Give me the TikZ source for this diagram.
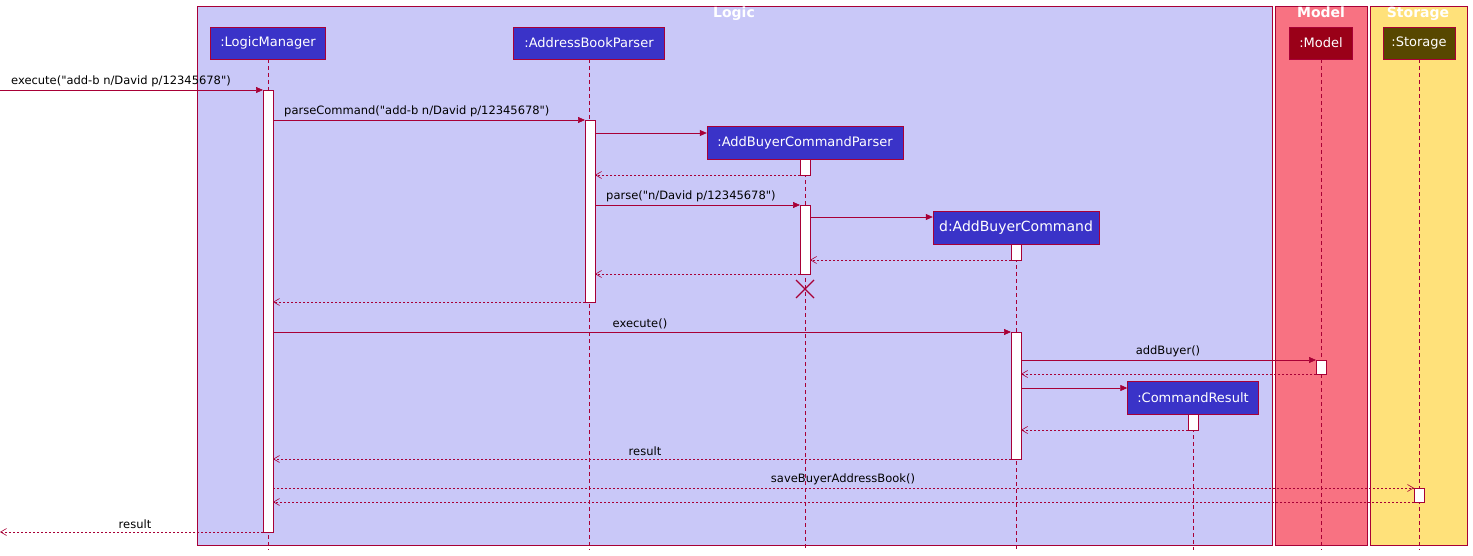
\documentclass[tikz,border=0pt]{standalone}
\usepackage{fontspec}
\setmainfont{DejaVu Sans}[Ligatures=TeXOff]
\usetikzlibrary{arrows.meta}
\newcommand\dq{"}
\definecolor{bd}{HTML}{A80036}
\definecolor{lg}{HTML}{C9C8F8}
\definecolor{md}{HTML}{F87282}
\definecolor{st}{HTML}{FFE17A}
\definecolor{pb}{HTML}{3A33C8}
\definecolor{mb}{HTML}{9A0018}
\definecolor{sb}{HTML}{574700}
\tikzset{
 grp/.style={draw=bd,line width=0.8pt},
 gtitle/.style={text=white,font=\bfseries\fontsize{14}{16}\selectfont,anchor=north,inner sep=2pt},
 part/.style={draw=bd,fill=pb,text=white,font=\fontsize{13}{15}\selectfont,minimum height=32,inner sep=2pt},
 life/.style={draw=bd,dashed,dash pattern=on 4pt off 3pt,line width=0.5pt},
 act/.style={draw=bd,fill=white,line width=0.6pt},
 msg/.style={draw=bd,line width=0.6pt,-{Triangle[length=7pt,width=6pt]}},
 ret/.style={draw=bd,line width=0.6pt,dash pattern=on 2pt off 2pt,-{Straight Barb[length=6pt,width=7pt]}},
 lbl/.style={font=\fontsize{11.5}{13}\selectfont,inner sep=1pt,anchor=south}
}
\begin{document}
\begin{tikzpicture}[x=1pt,y=-1pt]
\useasboundingbox (0,0) rectangle (1473,556);
\fill[white] (0,0) rectangle (1473,556);
% groups
\draw[grp,fill=lg] (197,6) rectangle (1272,545);
\draw[grp,fill=md] (1275,6) rectangle (1367,545);
\draw[grp,fill=st] (1370,6) rectangle (1467,545);
\node[gtitle] (gl) at (734,5) {Logic};
\node[gtitle] (gm) at (1321,5) {Model};
\node[gtitle] (gs) at (1418,5) {Storage};
% lifelines
\draw[life] (268,59) -- (268,550);
\draw[life] (589,59) -- (589,550);
\draw[life] (805,159) -- (805,550);
\draw[life] (1016,244) -- (1016,550);
\draw[life] (1193,414) -- (1193,550);
\draw[life] (1321,59) -- (1321,550);
\draw[life] (1419,59) -- (1419,550);
% participants
\node[part,minimum width=115] (lm) at (268,43) {:LogicManager};
\node[part,minimum width=151] (abp) at (589,43) {:AddressBookParser};
\node[part,fill=mb,minimum width=63] (mo) at (1321,43) {:Model};
\node[part,fill=sb,minimum width=72] (sto) at (1419,43) {:Storage};
\node[part,minimum width=196,minimum height=33] (abcp) at (805,142.5) {:AddBuyerCommandParser};
\node[part,minimum width=166,minimum height=33,font=\fontsize{14}{16}\selectfont] (abc) at (1016,227.5) {d:AddBuyerCommand};
\node[part,minimum width=131,minimum height=33] (cr) at (1193,397.5) {:CommandResult};
% activations
\draw[act] (263,90) rectangle (273,532);
\draw[act] (585,120) rectangle (595,302);
\draw[act] (800,159) rectangle (810,175);
\draw[act] (800,205) rectangle (810,274);
\draw[act] (1011,244) rectangle (1021,260);
\draw[act] (1011,332) rectangle (1021,459);
\draw[act] (1316,360) rectangle (1326,374);
\draw[act] (1188,414) rectangle (1198,430);
\draw[act] (1414,488) rectangle (1424,502);
% destroy
\draw[bd,line width=1.2pt] (796,280) -- (814,298) (796,298) -- (814,280);
% coordinates
\coordinate (in) at (0,90); \coordinate (out) at (0,532);
% messages
\draw[msg] (in) -- (263,90);
\node[lbl,anchor=south west] (l1) at (10,88) {execute(\dq add-b n/David p/12345678\dq)};
\draw[msg] (273,120) -- (585,120);
\node[lbl,anchor=south west] (l2) at (283,118) {parseCommand(\dq add-b n/David p/12345678\dq)};
\draw[msg] (595,133) -- (abcp.west |- 0,133);
\draw[ret] (800,175) -- (595,175);
\draw[msg] (595,205) -- (800,205);
\node[lbl,anchor=south west] (l3) at (605,203) {parse(\dq n/David p/12345678\dq)};
\draw[msg] (810,217) -- (abc.west |- 0,217);
\draw[ret] (1011,260) -- (810,260);
\draw[ret] (800,274) -- (595,274);
\draw[ret] (585,302) -- (273,302);
\draw[msg] (273,332) -- (1011,332);
\node[lbl] (l4) at (640,330) {execute()};
\draw[msg] (1021,360) -- (1316,360);
\node[lbl] (l5) at (1168,358) {addBuyer()};
\draw[ret] (1316,374) -- (1021,374);
\draw[msg] (1021,388) -- (cr.west |- 0,388);
\draw[ret] (1188,430) -- (1021,430);
\draw[ret] (1011,459) -- (273,459);
\node[lbl] (l6) at (645,457) {result};
\draw[ret] (273,488) -- (1414,488);
\node[lbl] (l7) at (843,486) {saveBuyerAddressBook()};
\draw[ret] (1414,502) -- (273,502);
\draw[ret] (263,532) -- (out);
\node[lbl] (l8) at (135,530) {result};
\end{tikzpicture}
\end{document}
